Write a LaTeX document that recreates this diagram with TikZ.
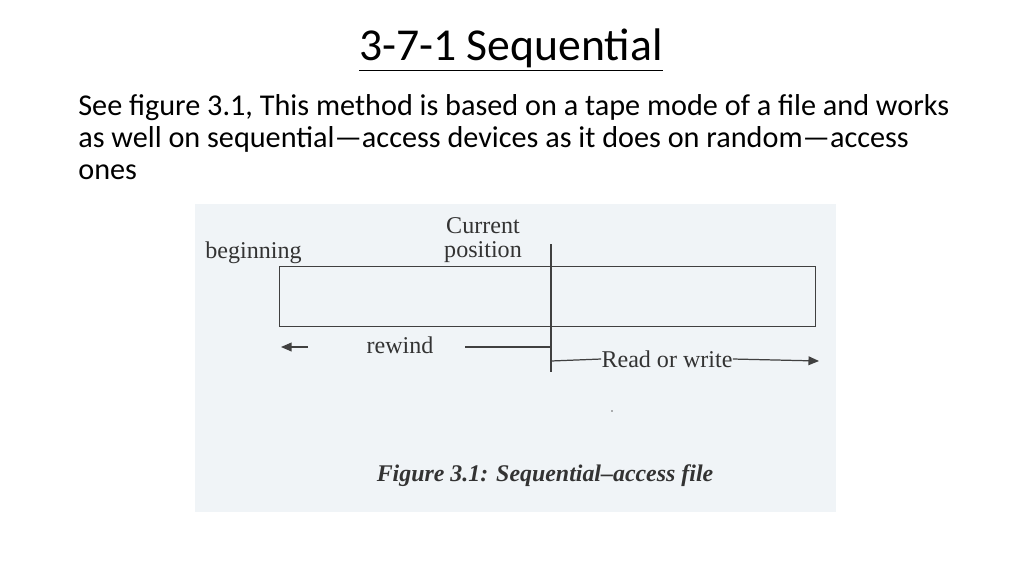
\documentclass[tikz,border=0pt]{standalone}
\usepackage{fontspec}
\setmainfont{Carlito}
\newfontfamily\figfont{Liberation Serif}
\usetikzlibrary{arrows.meta}
\tikzset{
  figtext/.style={font=\figfont\fontsize{13.7}{13.6}\selectfont, text=black!80, inner sep=0pt},
  figline/.style={draw=black!75, line width=0.7pt},
  tip/.style={-{Triangle[length=6pt,width=5pt]}},
  bodytext/.style={font=\fontsize{17.2}{18.2}\selectfont, align=left, anchor=north west, inner sep=0pt},
}
\begin{document}
\begin{tikzpicture}[x=0.02cm,y=-0.02cm]
\useasboundingbox (0,0) rectangle (1024,576);
\fill[white] (0,0) rectangle (1024,576);
% title
\node[font=\fontsize{26}{28}\selectfont, inner sep=0pt] (title) at (511,50) {\underline{3-7-1 Sequential}};
% body
\node[bodytext] (body) at (78,94) {See figure 3.1, This method is based on a tape mode of a file and works\\as well on sequential—access devices as it does on random—access\\ones};
% figure background
\fill[color={rgb,255:red,240;green,244;blue,247}] (195,204) rectangle (836,512);
% tape
\node[figline, minimum width=536*0.02cm, minimum height=60*0.02cm, inner sep=0pt, anchor=north west] (tape) at (279,266) {};
\coordinate (ctop) at (551,244);
\coordinate (cbot) at (551,372);
\draw[figline, line width=0.6pt] (ctop) -- (cbot);
\node[figtext, anchor=base west] (begin) at (205,258) {beginning};
\node[figtext, align=center, anchor=south] (cur) at (483,263) {Current\\position};
% rewind
\node[figtext] (rewind) at (400,345) {rewind};
\coordinate (rwA) at (308,347);
\coordinate (rwB) at (281,347);
\coordinate (rwC) at (465,347);
\coordinate (rwD) at (551,347);
\draw[figline, tip] (rwA) -- (rwB);
\draw[figline] (rwC) -- (rwD);
% read or write
\node[figtext] (rw) at (667,359) {Read or write};
\coordinate (rdA) at (551,361);
\coordinate (rdB) at (819,361);
\draw[figline] (rdA) -- (rw.west);
\draw[figline, tip] (rw.east) -- (rdB);
\fill[black!60] (612,411) circle (0.8);
% caption
\node[font=\figfont\fontsize{13.6}{14}\selectfont\bfseries\itshape, text=black!80, inner sep=0pt] (cap) at (545,476) {Figure 3.1: Sequential–access file};
\end{tikzpicture}
\end{document}
